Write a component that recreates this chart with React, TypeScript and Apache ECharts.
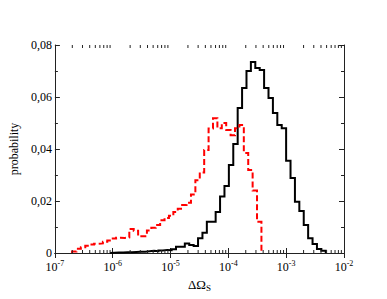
import React, { useEffect, useRef } from "react";
import * as echarts from "echarts";

// Histogram bins are equal in log10(ΔΩ_S)
const BIN_WIDTH_LOG = 0.07617;
const blackStartLog = -6.0478; // left edge of first black bin
const redStartLog = -6.7033; // left edge of first red bin

const blackValues = [
  0.0001, 0.0002, 0.0002, 0.0003, 0.0003, 0.0004, 0.0005, 0.0005, 0.0007, 0.0009,
  0.0007, 0.001, 0.0012, 0.0011, 0.0014, 0.0024, 0.0024, 0.0037, 0.0031, 0.0027,
  0.0057, 0.0078, 0.012, 0.012, 0.0158, 0.0217, 0.0258, 0.0338, 0.0419, 0.0558,
  0.0635, 0.07, 0.0735, 0.0712, 0.0704, 0.0635, 0.0596, 0.0538, 0.0492, 0.048,
  0.0355, 0.0288, 0.0197, 0.0162, 0.0108, 0.0057, 0.0035, 0.0015, 0.0009,
];

const redValues = [
  0.0006, 0.0016, 0.0022, 0.0028, 0.0033, 0.0036, 0.0037, 0.0043, 0.0048, 0.0056,
  0.0059, 0.0058, 0.006, 0.0092, 0.0086, 0.0064, 0.0065, 0.0087, 0.0097, 0.0108,
  0.0126, 0.0135, 0.0143, 0.0158, 0.017, 0.0185, 0.0193, 0.0225, 0.028, 0.031,
  0.0396, 0.0479, 0.0518, 0.048, 0.05, 0.0473, 0.0453, 0.048, 0.0492, 0.0385,
  0.0319, 0.024, 0.012,
];

const yTicks = [0, 0.02, 0.04, 0.06, 0.08];
const xDecades = [-7, -6, -5, -4, -3, -2];

const FONT = "Liberation Serif";

function stepPoints(startLog: number, w: number, vals: number[]) {
  const pts: number[][] = [];
  pts.push([Math.pow(10, startLog), 0]);
  vals.forEach((v, i) => {
    const a = Math.pow(10, startLog + i * w);
    const b = Math.pow(10, startLog + (i + 1) * w);
    pts.push([a, v]);
    pts.push([b, v]);
  });
  pts.push([Math.pow(10, startLog + vals.length * w), 0]);
  return pts;
}

const minorTickValues: number[] = [];
for (let d = xDecades[0]; d < xDecades[xDecades.length - 1]; d++) {
  for (let m = 2; m <= 9; m++) minorTickValues.push(m * Math.pow(10, d));
}

export default function App() {
  const ref = useRef<HTMLDivElement>(null);
  useEffect(() => {
    if (!ref.current) return;
    const chart = echarts.init(ref.current, null, { renderer: "svg" });
    const axisLine = { show: true, lineStyle: { color: "#222", width: 1 } };
    const xBase = {
      type: "log" as const,
      logBase: 10,
      min: Math.pow(10, xDecades[0]),
      max: Math.pow(10, xDecades[xDecades.length - 1]),
      splitLine: { show: false },
      axisLine,
      axisTick: { show: true, inside: true, length: 5, lineStyle: { color: "#222" } },
    };
    const yBase = {
      type: "value" as const,
      min: yTicks[0],
      max: yTicks[yTicks.length - 1],
      interval: 0.02,
      splitLine: { show: false },
      axisLine,
      axisTick: { show: true, inside: true, length: 5, lineStyle: { color: "#222" } },
      minorTick: { show: true, splitNumber: 2, length: 3, lineStyle: { color: "#222" } },
      minorSplitLine: { show: false },
    };
    chart.setOption({
      animation: false,
      backgroundColor: "#fff",
      grid: { left: 44, right: 43, top: 45, bottom: 46 },
      xAxis: [
        {
          ...xBase,
          position: "bottom",
          name: "{a|ΔΩ}{s|S}",
          nameLocation: "middle",
          nameGap: 24,
          nameTextStyle: {
            rich: {
              a: { fontFamily: FONT, fontSize: 13, color: "#000", lineHeight: 15 },
              s: { fontFamily: FONT, fontSize: 9, color: "#000", lineHeight: 10, verticalAlign: "bottom" },
            },
          },
          axisLabel: {
            show: true,
            margin: 6,
            formatter: (v: number) => `{b|10}{s|${Math.round(Math.log10(v))}}`,
            rich: {
              b: { fontFamily: FONT, fontSize: 12, color: "#000", lineHeight: 15 },
              s: { fontFamily: FONT, fontSize: 8, color: "#000", lineHeight: 9, verticalAlign: "top" },
            },
          },
        },
        { ...xBase, position: "top", axisLabel: { show: false } },
      ],
      yAxis: [
        {
          ...yBase,
          position: "left",
          name: "probability",
          nameLocation: "middle",
          nameGap: 33,
          nameRotate: 90,
          nameTextStyle: { fontFamily: FONT, fontSize: 12, color: "#000" },
          axisLabel: {
            show: true,
            margin: 3,
            fontFamily: FONT,
            fontSize: 12,
            color: "#000",
            formatter: (v: number) => (v === 0 ? "0" : v.toFixed(2).replace(".", ",")),
          },
        },
        { ...yBase, position: "right", axisLabel: { show: false } },
      ],
      series: [
        {
          type: "line",
          name: "black",
          data: stepPoints(blackStartLog, BIN_WIDTH_LOG, blackValues),
          showSymbol: false,
          symbol: "none",
          lineStyle: { color: "#000", width: 2, join: "miter" },
          z: 3,
        },
        {
          type: "line",
          name: "red",
          data: stepPoints(redStartLog, BIN_WIDTH_LOG, redValues),
          showSymbol: false,
          symbol: "none",
          lineStyle: { color: "#ff0000", width: 2, type: [6, 3], join: "miter" },
          z: 4,
        },
        {
          type: "custom",
          silent: true,
          clip: false,
          z: 5,
          data: minorTickValues.map((v) => [v, 0]),
          renderItem: (params: any, api: any) => {
            const pb = api.coord([api.value(0), yTicks[0]]);
            const pt = api.coord([api.value(0), yTicks[yTicks.length - 1]]);
            const st = { stroke: "#222", lineWidth: 1 };
            return {
              type: "group",
              children: [
                { type: "line", shape: { x1: pb[0], y1: pb[1], x2: pb[0], y2: pb[1] - 3 }, style: st },
                { type: "line", shape: { x1: pt[0], y1: pt[1], x2: pt[0], y2: pt[1] + 3 }, style: st },
              ],
            };
          },
        },
      ],
    });
    return () => chart.dispose();
  }, []);
  return (
    <div
      ref={ref}
      style={{ position: "fixed", left: 0, top: 0, width: 387, height: 299, background: "#fff" }}
    />
  );
}
